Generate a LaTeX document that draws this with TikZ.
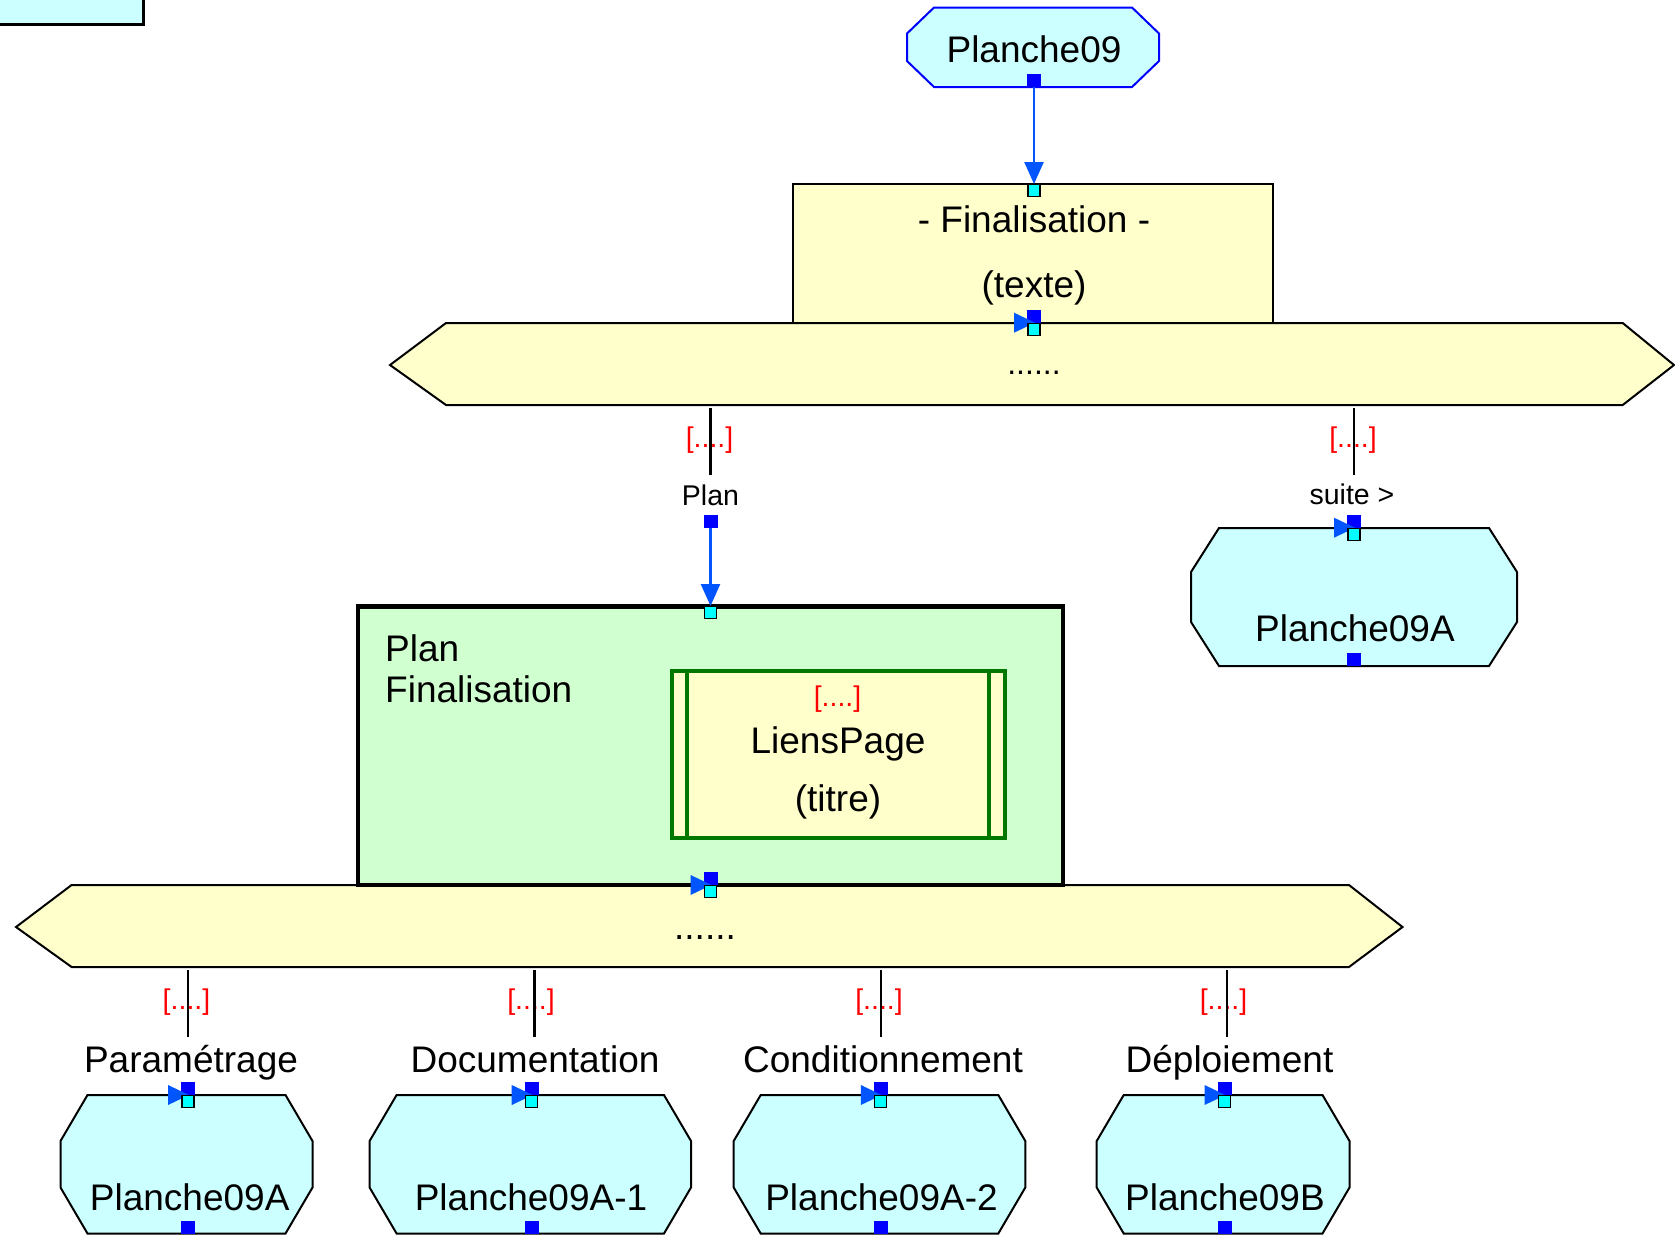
\documentclass[tikz,border=0pt]{standalone}
\usepackage{fontspec}
\setmainfont{Liberation Sans}
\usetikzlibrary{arrows.meta}
\definecolor{cyanfill}{RGB}{204,255,255}
\definecolor{yelfill}{RGB}{255,255,204}
\definecolor{grnfill}{RGB}{208,255,208}
\definecolor{dgreen}{RGB}{0,120,0}
\definecolor{arrblue}{RGB}{0,85,255}
\definecolor{portblue}{RGB}{0,0,255}
\definecolor{portcyan}{RGB}{0,255,255}
\definecolor{lblred}{RGB}{255,0,0}
% octagon: style, left, top, right, bottom, chamfer x, chamfer y
\newcommand\octo[7]{\draw[#1] (#2+#6,#3) -- (#4-#6,#3) -- (#4,#3+#7) -- (#4,#5-#7) -- (#4-#6,#5) -- (#2+#6,#5) -- (#2,#5-#7) -- (#2,#3+#7) -- cycle;}
\newcommand\oport[1]{\fill[portblue] (#1) ++(-7,0) rectangle ++(14,-13);}
\newcommand\iport[1]{\filldraw[fill=portcyan, draw=black, line width=1.3pt] (#1) ++(-6,0.5) rectangle ++(12,12);}
\newcommand\ientry[1]{\fill[arrblue] (#1) ++(1,0) -- ++(-21,-10) -- ++(0,20) -- cycle;}
\begin{document}
\begin{tikzpicture}[x=1pt,y=-1pt,
  txt/.style={inner sep=0pt, anchor=base, font=\fontsize{37}{40}\selectfont},
  lbl/.style={inner sep=0pt, anchor=base, font=\fontsize{28.5}{32}\selectfont},
  redlbl/.style={inner sep=0pt, anchor=base, text=lblred, font=\fontsize{28.5}{32}\selectfont},
  stub/.style={draw=black, line width=2.5pt},
  flow/.style={draw=arrblue, line width=2.5pt, -{Triangle[length=22pt,width=19pt]}},
  octs/.style={draw=black, fill=cyanfill, line width=2pt},
  hexs/.style={draw=black, fill=yelfill, line width=2pt}]
\useasboundingbox (0,0) rectangle (1675,1240);
\fill[white] (0,0) rectangle (1675,1240);

% partial box top-left
\draw[fill=cyanfill, line width=3pt] (-10,-10) rectangle (143.3,24);

% Planche09
\octo{draw=portblue, fill=cyanfill, line width=2pt}{907}{7.5}{1159}{87}{27}{26}
\node[txt] (p09) at (1034,62) {Planche09};

% Finalisation box
\draw[hexs] (793.3,184) rectangle (1272.7,322.7);
\node[txt] (fin1) at (1034,232) {- Finalisation -};
\node[txt] (fin2) at (1034,297) {(texte)};

% upper hexagon
\draw[hexs] (390,365) -- (446,323) -- (1622.7,323) -- (1674,365) -- (1622.7,405) -- (446,405) -- cycle;
\node[inner sep=0pt, anchor=base, font=\fontsize{32}{34}\selectfont] (hexA) at (1034,374.5) {......};

% right Planche09A
\octo{octs}{1191}{528}{1517}{666}{28}{44}
\node[txt] (p09aR) at (1355,641) {Planche09A};

% lower hexagon
\draw[hexs] (16,927) -- (71.6,885) -- (1349,885) -- (1402.5,927) -- (1349,967) -- (71.6,967) -- cycle;
\node[txt] (hexB) at (705,939.5) {......};

% green plan box
\draw[fill=grnfill, draw=black, line width=4.5pt] (357.9,606.5) rectangle (1063,885);
\node[txt, anchor=base west] (plan1) at (385,661) {Plan};
\node[txt, anchor=base west] (plan2) at (385,702) {Finalisation};

% LiensPage
\draw[fill=yelfill, draw=dgreen, line width=4pt] (671.8,670.7) rectangle (1004.5,838.3);
\draw[draw=dgreen, line width=4pt] (686.9,670.7) -- (686.9,838.3) (988.9,670.7) -- (988.9,838.3);
\node[redlbl] (lpr) at (837.5,706) {[....]};
\node[txt] (lp1) at (838,753.5) {LiensPage};
\node[txt] (lp2) at (838,811.5) {(titre)};

% bottom octagons
\octo{octs}{60.5}{1095}{312.5}{1233.5}{27}{46}
\octo{octs}{369.6}{1095}{691}{1233.5}{27}{46}
\octo{octs}{733.7}{1095}{1025.3}{1233.5}{27}{46}
\octo{octs}{1096.7}{1095}{1349.5}{1233.5}{27}{46}
\node[txt] (b1) at (189.7,1210) {Planche09A};
\node[txt] (b2) at (531,1210) {Planche09A-1};
\node[txt] (b3) at (881.5,1210) {Planche09A-2};
\node[txt] (b4) at (1225,1210) {Planche09B};

% coordinates
\coordinate (p09out) at (1034,87);
\coordinate (finin) at (1034,184);
\coordinate (finout) at (1034,322.7);
\coordinate (s1a) at (710.7,408); \coordinate (s1b) at (710.7,475);
\coordinate (s2a) at (1354,408); \coordinate (s2b) at (1354,475);
\coordinate (planout) at (710.5,528);
\coordinate (planin) at (710.5,606);
\coordinate (suiteout) at (1354,527.7);
\coordinate (rout) at (1354,666);
\coordinate (gout) at (710.5,885);
\foreach \n/\x/\px in {1/188/188,2/534.4/531.7,3/880.8/880.8,4/1226.8/1224.5}{
  \coordinate (t\n a) at (\x,970);
  \coordinate (t\n b) at (\x,1037);
  \coordinate (t\n p) at (\px,1095);
  \coordinate (t\n o) at (\px,1233.5);
}

% upper connector labels
\node[redlbl] (r1) at (709.5,447.5) {[....]};
\node[redlbl] (r2) at (1353,447) {[....]};
\draw[stub] (s1a) -- (s1b);
\draw[stub] (s2a) -- (s2b);
\node[lbl] (lplan) at (710.5,505) {Plan};
\node[lbl] (lsuite) at (1352,504) {suite >};

% bottom connector labels
\node[redlbl] (r3) at (186.5,1009.5) {[....]};
\node[redlbl] (r4) at (531,1009.5) {[....]};
\node[redlbl] (r5) at (879,1009.5) {[....]};
\node[redlbl] (r6) at (1223.5,1009.5) {[....]};
\foreach \n in {1,2,3,4}{\draw[stub] (t\n a) -- (t\n b);}
\node[txt] (l1) at (191,1072) {Paramétrage};
\node[txt] (l2) at (535,1072) {Documentation};
\node[txt] (l3) at (883,1072) {Conditionnement};
\node[txt] (l4) at (1229.5,1072) {Déploiement};

% flows
\draw[flow] (p09out) -- (finin);
\draw[flow] (planout) -- (planin);

% ports
\oport{p09out}
\iport{finin}
\oport{finout}\ientry{finout}\iport{finout}
\oport{planout}
\iport{planin}
\oport{suiteout}\ientry{suiteout}\iport{suiteout}
\oport{rout}
\oport{gout}\ientry{gout}\iport{gout}
\foreach \n in {1,2,3,4}{\oport{t\n p}\ientry{t\n p}\iport{t\n p}\oport{t\n o}}
\end{tikzpicture}
\end{document}
